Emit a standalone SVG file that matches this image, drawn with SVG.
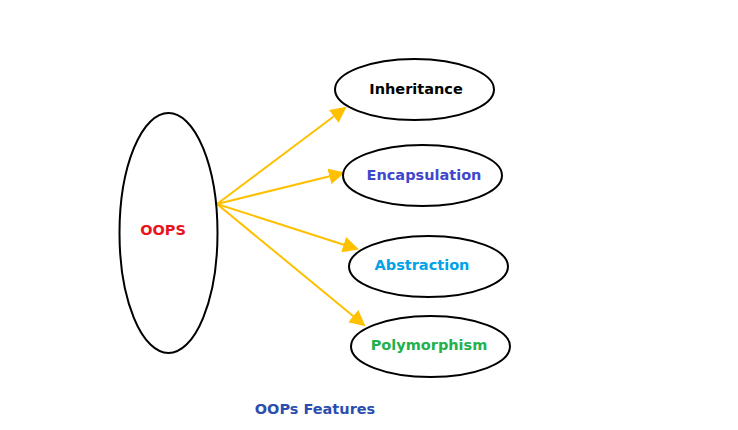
<svg xmlns="http://www.w3.org/2000/svg" width="738" height="430" viewBox="0 0 738 430">
<style>
.n{fill:#fff;stroke:#000;stroke-width:2}
.t{font-family:"DejaVu Sans",Verdana,sans-serif;font-weight:bold;font-size:14.5px;text-anchor:middle;dominant-baseline:central}
.c{stroke:#FFC000;stroke-width:2;fill:none;marker-end:url(#a)}
</style>
<defs>
<marker id="a" markerWidth="8" markerHeight="8" refX="7" refY="4" orient="auto" markerUnits="strokeWidth">
<path d="M0,0 L8,4 L0,8 z" fill="#FFC000"/>
</marker>
</defs>
<rect width="738" height="430" fill="#fff"/>
<g id="connectors">
<line class="c" x1="217" y1="204" x2="345" y2="108"/>
<line class="c" x1="217" y1="204" x2="343" y2="173"/>
<line class="c" x1="217" y1="204" x2="357" y2="249"/>
<line class="c" x1="217" y1="204" x2="364" y2="325"/>
</g>
<g id="oops"><ellipse class="n" cx="168.5" cy="233" rx="49" ry="120"/><text class="t" x="163" y="230" fill="#E8141C">OOPS</text></g>
<g id="inheritance"><ellipse class="n" cx="414.5" cy="89.5" rx="79.5" ry="30.5"/><text class="t" x="416" y="89" fill="#000">Inheritance</text></g>
<g id="encapsulation"><ellipse class="n" cx="422.5" cy="175.5" rx="79.5" ry="30.5"/><text class="t" x="424" y="175" fill="#3F48CC">Encapsulation</text></g>
<g id="abstraction"><ellipse class="n" cx="428.5" cy="266.5" rx="79.5" ry="30.5"/><text class="t" x="422" y="265" fill="#00A2E8">Abstraction</text></g>
<g id="polymorphism"><ellipse class="n" cx="430.5" cy="346.5" rx="79.5" ry="30.5"/><text class="t" x="429" y="345" fill="#22B14C">Polymorphism</text></g>
<g id="title"><text class="t" x="315" y="409" fill="#2B4DB0">OOPs Features</text></g>
</svg>
